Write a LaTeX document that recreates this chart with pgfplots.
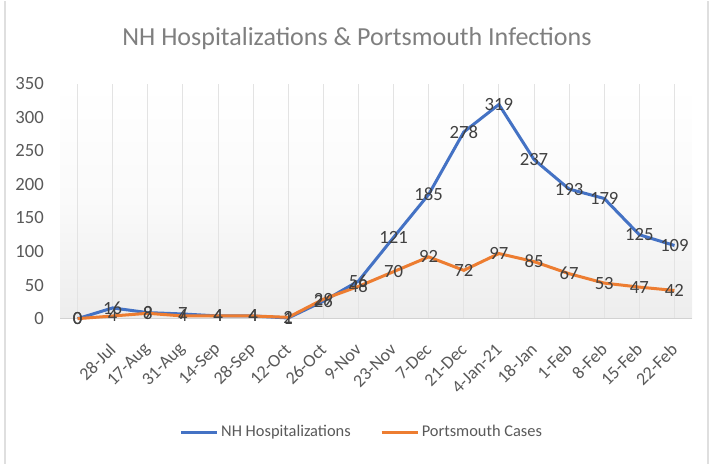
\documentclass[border=0pt]{standalone}
\usepackage{fontspec}
\setmainfont{Carlito}
\usepackage{pgfplots}
\pgfplotsset{compat=1.18}
\definecolor{xlblue}{HTML}{4472C4}
\definecolor{xlorange}{HTML}{ED7D31}
\definecolor{lblgray}{HTML}{404040}
\definecolor{tickgray}{HTML}{595959}
\definecolor{titlegray}{HTML}{7F7F7F}
\begin{document}
\begin{tikzpicture}
\begin{axis}[
  scale only axis,
  width=474pt, height=176.25pt,
  xmin=-0.5, xmax=17.5,
  ymin=0, ymax=350,
  ytick={0,50,...,350},
  xtick={0,...,17},
  xticklabels={{},28-Jul,17-Aug,31-Aug,14-Sep,28-Sep,12-Oct,26-Oct,9-Nov,23-Nov,7-Dec,21-Dec,4-Jan-21,18-Jan,1-Feb,8-Feb,15-Feb,22-Feb},
  xticklabel style={yshift=-21pt, xshift=0pt, rotate=45, anchor=east, inner sep=0pt, font=\fontsize{13.5}{16}\selectfont, text=tickgray},
  yticklabel style={anchor=east, inner sep=0pt, xshift=-12pt, font=\fontsize{14}{16}\selectfont, text=tickgray},
  /pgf/number format/assume math mode=true,
  major tick length=0pt,
  axis lines=left,
  axis line style={-},
  x axis line style={draw=gray!35, line width=0.8pt},
  y axis line style={draw=none},
  xmajorgrids,
  major grid style={gray!22, line width=0.6pt},
  axis background/.style={shade, top color=white, bottom color=black!7, middle color=black!2},
  clip=false,
  nodes near coords,
  every node near coord/.append style={anchor=center, font=\fontsize{14}{16}\selectfont, text=lblgray, inner sep=0pt},
  legend style={at={(0.478,-0.483)}, anchor=center, draw=none, fill=none, legend columns=2,
    font=\fontsize{12.3}{14}\selectfont, text=tickgray,
    /tikz/every even column/.append style={column sep=20pt}},
  legend cell align=left,
  legend image code/.code={\draw[line width=2.25pt] (0pt,0pt) -- (27pt,0pt);},
]
\addplot[xlblue, line width=2.25pt, mark=none] coordinates {
 (0,0) (1,16) (2,9) (3,7) (4,4) (5,4) (6,1) (7,26) (8,56) (9,121) (10,185) (11,278) (12,319) (13,237) (14,193) (15,179) (16,125) (17,109)};
\addlegendentry{NH Hospitalizations}
\addplot[xlorange, line width=2.25pt, mark=none] coordinates {
 (0,0) (1,4) (2,8) (3,4) (4,4) (5,4) (6,2) (7,29) (8,48) (9,70) (10,92) (11,72) (12,97) (13,85) (14,67) (15,53) (16,47) (17,42)};
\addlegendentry{Portsmouth Cases}
\end{axis}
\node[text=titlegray, font=\fontsize{19.5}{23}\selectfont] at (222.75pt,210pt) {NH Hospitalizations \& Portsmouth Infections};
\draw[gray!25, line width=1pt] (-41.25pt,-108.75pt) -- (-41.25pt,238.5pt);
\draw[gray!25, line width=1pt] (486pt,-108.75pt) -- (486pt,238.5pt);
\path[use as bounding box] (-45pt,-108.75pt) rectangle (490.5pt,238.5pt);
\end{tikzpicture}
\end{document}
